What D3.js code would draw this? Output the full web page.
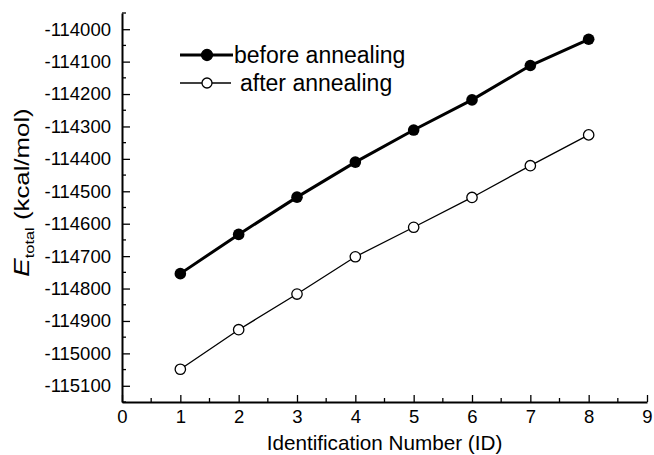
<!DOCTYPE html>
<html>
<head>
<meta charset="utf-8">
<script src="https://cdn.jsdelivr.net/npm/d3@7"></script>
<style>
  body { margin: 0; background: #fff; }
  svg { display: block; font-family: "Liberation Sans", Arial, sans-serif; }
</style>
</head>
<body>
<script>
const ids = [1, 2, 3, 4, 5, 6, 7, 8];
const beforeAnnealing = [-114754, -114633, -114518, -114410, -114311, -114218, -114112, -114031];
const afterAnnealing = [-115049, -114927, -114817, -114702, -114611, -114519, -114421, -114326];
const xTicks = [0, 1, 2, 3, 4, 5, 6, 7, 8, 9];
const yTicks = [-115100, -115000, -114900, -114800, -114700, -114600, -114500, -114400, -114300, -114200, -114100, -114000];
const seriesNames = ['before annealing', 'after annealing'];

const W = 654, H = 455;
const M = {left: 122, right: 7, top: 13, bottom: 53};

const svg = d3.select('body').append('svg')
    .attr('width', W)
    .attr('height', H);

const x = d3.scaleLinear().domain([0, 9]).range([M.left, W - M.right]);
const y = d3.scaleLinear().domain([-115150, -113950]).range([H - M.bottom, M.top]);

// minor ticks
const xMinor = d3.range(0.5, 9, 1);
const yMinor = d3.range(-115150, -113940, 100);

const gx = svg.append('g').attr('transform', `translate(0,${H - M.bottom})`);
gx.call(d3.axisBottom(x).tickValues(xTicks).tickSizeInner(-7).tickSizeOuter(0).tickPadding(8).tickFormat(d3.format('d')));
gx.append('g').selectAll('line')
    .data(xMinor)
    .enter()
    .append('line')
    .attr('x1', d => x(d)).attr('x2', d => x(d))
    .attr('y1', 0).attr('y2', -4)
    .attr('stroke', '#000').attr('stroke-width', 1.3);

const gy = svg.append('g').attr('transform', `translate(${M.left},0)`);
gy.call(d3.axisLeft(y).tickValues(yTicks).tickSizeInner(-8).tickSizeOuter(0).tickPadding(11).tickFormat(d => d));
gy.append('g').selectAll('line')
    .data(yMinor)
    .enter()
    .append('line')
    .attr('y1', d => y(d)).attr('y2', d => y(d))
    .attr('x1', 0).attr('x2', 4)
    .attr('stroke', '#000').attr('stroke-width', 1.3);

[gx, gy].forEach(g => {
    g.select('.domain').attr('stroke', '#000').attr('stroke-width', 2);
    g.selectAll('.tick line').attr('stroke', '#000').attr('stroke-width', 1.3);
    g.selectAll('.tick text')
        .attr('fill', '#000')
        .style('font-size', '18.5px')
        .style('font-family', '"Liberation Sans", Arial, sans-serif');
});

// axis titles
svg.append('text')
    .attr('x', (x(0) + x(9)) / 2)
    .attr('y', 450)
    .attr('text-anchor', 'middle')
    .attr('fill', '#000')
    .style('font-size', '20.7px')
    .text('Identification Number (ID)');

const yTitle = svg.append('text')
    .attr('transform', `translate(28.5,192.5) rotate(-90) scale(1.26,1)`)
    .attr('text-anchor', 'middle')
    .attr('fill', '#000')
    .style('font-size', '20.5px');
yTitle.append('tspan').style('font-style', 'italic').style('font-size', '22px').text('E');
yTitle.append('tspan').attr('dy', 5).style('font-size', '13px').text('total');
yTitle.append('tspan').attr('dy', -5).text(' (kcal/mol)');

// lines
const line = d3.line().x(d => x(d[0])).y(d => y(d[1]));
const beforePts = ids.map((d, i) => [d, beforeAnnealing[i]]);
const afterPts = ids.map((d, i) => [d, afterAnnealing[i]]);

svg.append('path')
    .datum(beforePts)
    .attr('d', line)
    .attr('fill', 'none')
    .attr('stroke', '#000')
    .attr('stroke-width', 3);

svg.append('path')
    .datum(afterPts)
    .attr('d', line)
    .attr('fill', 'none')
    .attr('stroke', '#000')
    .attr('stroke-width', 1.3);

svg.append('g').selectAll('circle')
    .data(beforePts)
    .enter()
    .append('circle')
    .attr('cx', d => x(d[0]))
    .attr('cy', d => y(d[1]))
    .attr('r', 5.8)
    .attr('fill', '#000');

svg.append('g').selectAll('circle')
    .data(afterPts)
    .enter()
    .append('circle')
    .attr('cx', d => x(d[0]))
    .attr('cy', d => y(d[1]))
    .attr('r', 5.2)
    .attr('fill', '#fff')
    .attr('stroke', '#000')
    .attr('stroke-width', 1.3);

// legend
const legend = svg.append('g').attr('transform', 'translate(180,55)');
const rows = legend.selectAll('g')
    .data(seriesNames)
    .enter()
    .append('g')
    .attr('transform', (d, i) => `translate(0,${i * 28})`);

rows.append('line')
    .attr('x1', 0).attr('x2', (d, i) => i === 0 ? 53 : 51)
    .attr('y1', 0).attr('y2', 0)
    .attr('stroke', '#000')
    .attr('stroke-width', (d, i) => i === 0 ? 3 : 1.3);

rows.append('circle')
    .attr('cx', 27)
    .attr('cy', 0)
    .attr('r', (d, i) => i === 0 ? 5.5 : 5)
    .attr('fill', (d, i) => i === 0 ? '#000' : '#fff')
    .attr('stroke', '#000')
    .attr('stroke-width', 1.3);

rows.append('text')
    .attr('x', (d, i) => i === 0 ? 54 : 60)
    .attr('y', 8)
    .attr('fill', '#000')
    .style('font-size', '23px')
    .text(d => d);
</script>
</body>
</html>
